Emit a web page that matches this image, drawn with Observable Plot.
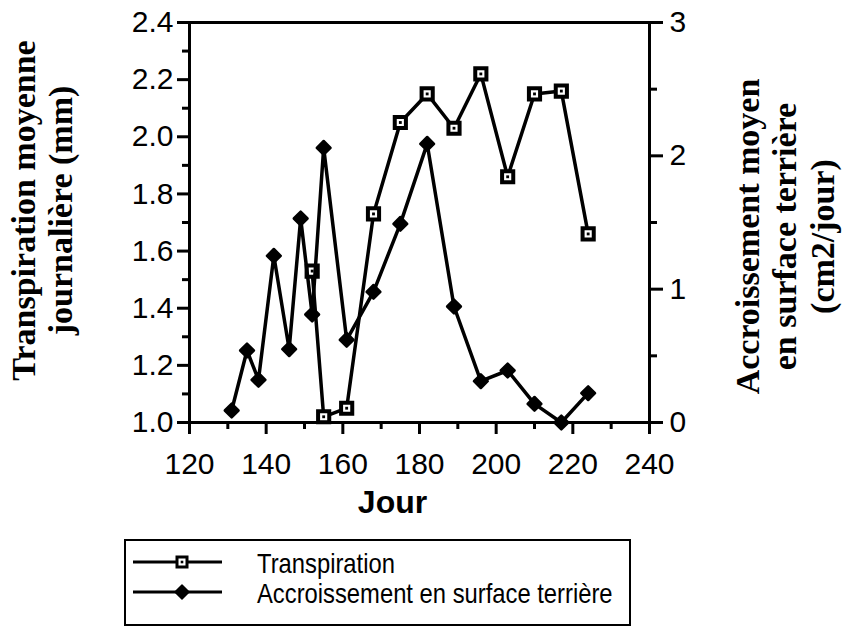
<!DOCTYPE html>
<html>
<head>
<meta charset="utf-8">
<script src="https://cdn.jsdelivr.net/npm/d3@7"></script>
<script src="https://cdn.jsdelivr.net/npm/@observablehq/plot@0.6"></script>
<style>
  html, body { margin: 0; padding: 0; background: #fff; }
  #wrap { position: relative; width: 843px; height: 626px; overflow: hidden; background: #fff; }
  #legend { position: absolute; left: 124px; top: 539px; }
</style>
</head>
<body>
<div id="wrap"></div>
<script>
// Transpiration moyenne journalière (mm), by day of year
const joursTranspiration = [152, 155, 161, 168, 175, 182, 189, 196, 203, 210, 217, 224];
const transpiration = [1.53, 1.02, 1.05, 1.73, 2.05, 2.15, 2.03, 2.22, 1.86, 2.15, 2.16, 1.66];

// Accroissement moyen en surface terrière (cm2/jour), by day of year
const joursAccroissement = [131, 135, 138, 142, 146, 149, 152, 155, 161, 168, 175, 182, 189, 196, 203, 210, 217, 224];
const accroissement = [0.09, 0.54, 0.32, 1.25, 0.55, 1.53, 0.81, 2.06, 0.62, 0.98, 1.49, 2.09, 0.87, 0.31, 0.39, 0.14, 0.0, 0.22];

// Axis ticks
const xTicks = [120, 140, 160, 180, 200, 220, 240];
const xMinor = [130, 150, 170, 190, 210, 230];
const yTicks = [1.0, 1.2, 1.4, 1.6, 1.8, 2.0, 2.2, 2.4];
const yMinor = [1.1, 1.3, 1.5, 1.7, 1.9, 2.1, 2.3];
const y2Ticks = [0, 1, 2, 3];
const y2Minor = [0.5, 1.5, 2.5];

// Left axis spans 1.0–2.4 mm, right axis spans 0–3 cm2/jour over the same height
const leftDomain = [1.0, 2.4];
const rightDomain = [0, 3];
const toLeft = r => leftDomain[0] + (r - rightDomain[0]) * (leftDomain[1] - leftDomain[0]) / (rightDomain[1] - rightDomain[0]);

const T = joursTranspiration.map((jour, i) => ({jour, valeur: transpiration[i]}));
const A = joursAccroissement.map((jour, i) => ({jour, valeur: accroissement[i]}));

const serif = "'Liberation Serif', 'Times New Roman', serif";

const chart = Plot.plot({
  width: 843,
  height: 530,
  marginLeft: 189,
  marginRight: 194,
  marginTop: 22,
  marginBottom: 108,
  x: {domain: [120, 240]},
  y: {domain: leftDomain},
  style: {fontFamily: "'Liberation Sans', Arial, sans-serif", fontSize: "30px", color: "black", background: "white"},
  marks: [
    Plot.frame({stroke: "black", strokeWidth: 3}),
    Plot.axisX(xTicks, {tickSize: 12, tickPadding: 18, strokeWidth: 3, label: null, tickFormat: d => String(d)}),
    Plot.axisX(xMinor, {tickSize: 7, strokeWidth: 3, text: null, label: null}),
    Plot.axisY(yTicks, {anchor: "left", tickSize: 12, tickPadding: 4, strokeWidth: 3, label: null, tickFormat: d3.format(".1f")}),
    Plot.axisY(yMinor, {anchor: "left", tickSize: 7, strokeWidth: 3, text: null, label: null}),
    Plot.axisY(y2Ticks.map(toLeft), {anchor: "right", tickSize: 13, tickPadding: 7, strokeWidth: 3, label: null,
      tickFormat: d => String(Math.round((d - leftDomain[0]) * (rightDomain[1] - rightDomain[0]) / (leftDomain[1] - leftDomain[0])))}),
    Plot.axisY(y2Minor.map(toLeft), {anchor: "right", tickSize: 7, strokeWidth: 3, text: null, label: null}),

    // Transpiration: line with open square markers
    Plot.line(T, {x: "jour", y: "valeur", stroke: "black", strokeWidth: 3.5}),
    Plot.dot(T, {x: "jour", y: "valeur", symbol: "square", r: 6.3, fill: "white", stroke: "black", strokeWidth: 4}),
    Plot.dot(T, {x: "jour", y: "valeur", symbol: "square", r: 1.6, fill: "black"}),

    // Accroissement: line with filled diamonds, read on the right axis
    Plot.line(A, {x: "jour", y: d => toLeft(d.valeur), stroke: "black", strokeWidth: 3.5}),
    Plot.dot(A, {x: "jour", y: d => toLeft(d.valeur), symbol: "diamond2", r: 6.2, fill: "black", stroke: "black", strokeWidth: 2.5, strokeLinejoin: "round"}),

    // Axis titles
    Plot.text(["Jour"], {frameAnchor: "bottom", dx: -27, dy: 80, textAnchor: "middle", lineAnchor: "middle",
      fontSize: 32, fontWeight: "bold", fill: "black"}),
    Plot.text(["Transpiration moyenne\njournalière (mm)"], {frameAnchor: "left", rotate: -90, dx: -148, dy: -12,
      textAnchor: "middle", lineAnchor: "middle", lineHeight: 1.1, fontSize: 34, fontWeight: "bold", fontFamily: serif, fill: "black"}),
    Plot.text(["Accroissement moyen\nen surface terrière\n(cm2/jour)"], {frameAnchor: "right", rotate: -90, dx: 135, dy: 14,
      textAnchor: "middle", lineAnchor: "middle", lineHeight: 1.1, fontSize: 34, fontWeight: "bold", fontFamily: serif, fill: "black"})
  ]
});

const wrap = document.getElementById("wrap");
wrap.appendChild(chart);

// Legend box below the chart
const legend = d3.create("svg")
  .attr("id", "legend")
  .attr("width", 508)
  .attr("height", 87);

legend.append("rect")
  .attr("x", 1).attr("y", 1).attr("width", 505).attr("height", 85)
  .attr("fill", "white").attr("stroke", "black").attr("stroke-width", 2);

const rows = [
  {label: "Transpiration", y: 23, marker: "square"},
  {label: "Accroissement en surface terrière", y: 53, marker: "diamond"}
];

rows.forEach(row => {
  legend.append("line")
    .attr("x1", 9).attr("x2", 98).attr("y1", row.y).attr("y2", row.y)
    .attr("stroke", "black").attr("stroke-width", 3);
  if (row.marker === "square") {
    legend.append("rect").attr("x", 53).attr("y", row.y - 5).attr("width", 10).attr("height", 10)
      .attr("fill", "white").attr("stroke", "black").attr("stroke-width", 3);
    legend.append("rect").attr("x", 56.7).attr("y", row.y - 1.3).attr("width", 2.6).attr("height", 2.6).attr("fill", "black");
  } else {
    legend.append("path")
      .attr("d", `M58,${row.y - 7}L65,${row.y}L58,${row.y + 7}L51,${row.y}Z`)
      .attr("fill", "black").attr("stroke", "black").attr("stroke-width", 1.5).attr("stroke-linejoin", "round");
  }
  legend.append("text")
    .attr("transform", `translate(133,${row.y + 11}) scale(0.85,1)`)
    .attr("font-family", "'Liberation Sans', Arial, sans-serif")
    .attr("font-size", 28)
    .attr("fill", "black")
    .text(row.label);
});

wrap.appendChild(legend.node());
</script>
</body>
</html>
